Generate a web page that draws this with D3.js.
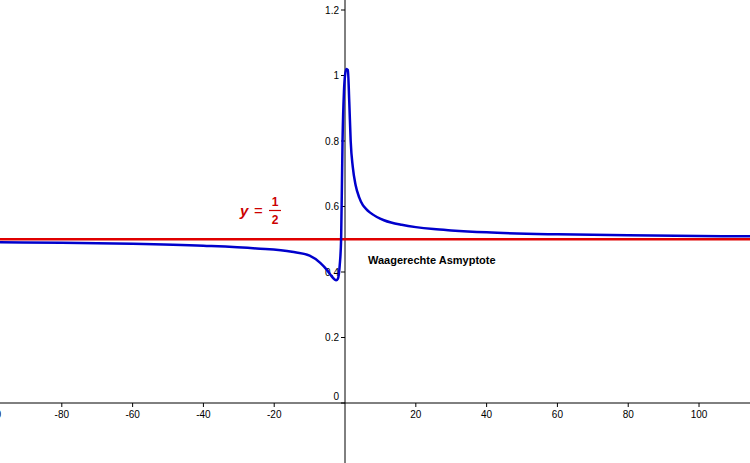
<!DOCTYPE html>
<html><head><meta charset="utf-8">
<script src="https://cdn.jsdelivr.net/npm/d3@7"></script>
<style>body{margin:0;background:#fff}text{font-family:"Liberation Sans",Arial,sans-serif}</style>
</head><body><div id="chart"></div>
<script>
// curve points
var xs = [-98, -80, -60, -40, -25, -15, -10, -7, -5, -4, -3, -2.5, -2, -1.5, -1.1, -0.7, -0.3, 0, 0.4, 0.8, 1.2, 1.6, 2.2, 3, 4, 5, 6, 7, 9, 11, 13, 16, 20, 25, 30, 40, 60, 80, 100, 115];
var ys = [0.491, 0.489, 0.486, 0.480, 0.472, 0.462, 0.450, 0.428, 0.405, 0.390, 0.378, 0.375, 0.380, 0.420, 0.500, 0.800, 0.950, 1.000, 1.020, 1.017, 0.920, 0.800, 0.720, 0.665, 0.628, 0.605, 0.592, 0.582, 0.568, 0.558, 0.551, 0.544, 0.537, 0.531, 0.527, 0.521, 0.515, 0.512, 0.510, 0.509];
var xTicks = [-100, -80, -60, -40, -20, 20, 40, 60, 80, 100];
var yTicks = [0, 0.2, 0.4, 0.6, 0.8, 1, 1.2];
var asymptote = 0.5;

var width = 750, height = 463;
var x = d3.scaleLinear().domain([-97.46, 114.4]).range([0, width]);
var y = d3.scaleLinear().domain([0, 1.2]).range([403, 10]);

var svg = d3.select('#chart').append('svg')
    .attr('width', width).attr('height', height);

// axes
svg.append('line').attr('x1', 0).attr('x2', width)
    .attr('y1', y(0)).attr('y2', y(0)).attr('stroke', '#000');
svg.append('line').attr('x1', x(0)).attr('x2', x(0))
    .attr('y1', 0).attr('y2', height).attr('stroke', '#000');

svg.selectAll('.xt').data(xTicks).enter().append('line')
    .attr('x1', d => x(d)).attr('x2', d => x(d))
    .attr('y1', y(0)).attr('y2', y(0) + 4).attr('stroke', '#000');
svg.selectAll('.xl').data(xTicks).enter().append('text')
    .attr('x', d => x(d)).attr('y', y(0) + 15)
    .attr('text-anchor', 'middle').attr('font-size', 10)
    .text(d => d);

svg.selectAll('.yt').data(yTicks).enter().append('line')
    .attr('x1', x(0) - 4).attr('x2', x(0))
    .attr('y1', d => y(d)).attr('y2', d => y(d)).attr('stroke', '#000');
svg.selectAll('.yl').data(yTicks).enter().append('text')
    .attr('x', x(0) - 6).attr('y', d => d === 0 ? y(d) - 3 : y(d) + 3.5)
    .attr('text-anchor', 'end').attr('font-size', 10)
    .text(d => d);

// asymptote
svg.append('line').attr('x1', 0).attr('x2', width)
    .attr('y1', y(asymptote)).attr('y2', y(asymptote))
    .attr('stroke', '#e00000').attr('stroke-width', 2.5);

// curve
var line = d3.line().x(d => x(d[0])).y(d => y(d[1])).curve(d3.curveMonotoneX);
svg.append('path').datum(d3.zip(xs, ys))
    .attr('d', line).attr('fill', 'none')
    .attr('stroke', '#0000cc').attr('stroke-width', 2.5);

// labels
var lab = svg.append('g').attr('fill', '#cc0000')
    .style('font-family', '"DejaVu Serif",serif');
lab.append('text').attr('x', 240).attr('y', 216).attr('font-size', 15)
    .attr('font-style', 'italic').attr('font-weight', 'bold').text('y');
lab.append('text').attr('x', 254).attr('y', 216).attr('font-size', 15).text('=');
lab.append('text').attr('x', 275).attr('y', 206).attr('font-size', 12)
    .attr('font-weight', 'bold').attr('text-anchor', 'middle').text('1');
svg.append('line').attr('x1', 269).attr('x2', 281).attr('y1', 210.5).attr('y2', 210.5)
    .attr('stroke', '#cc0000').attr('stroke-width', 1.2);
lab.append('text').attr('x', 275).attr('y', 224).attr('font-size', 12)
    .attr('font-weight', 'bold').attr('text-anchor', 'middle').text('2');

svg.append('text').attr('x', 368).attr('y', 264).attr('font-size', 11)
    .attr('font-weight', 'bold').text('Waagerechte Asmyptote');
</script></body></html>
